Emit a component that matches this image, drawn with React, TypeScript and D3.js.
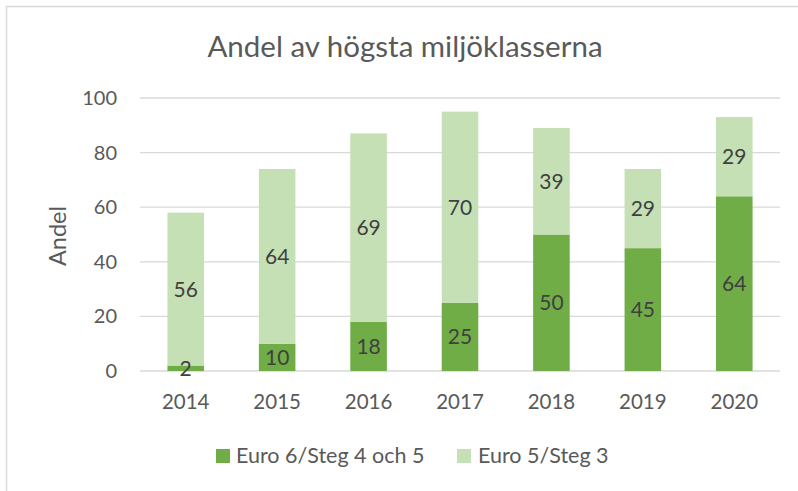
import React from "react";
import * as d3 from "d3";

const years = ["2014", "2015", "2016", "2017", "2018", "2019", "2020"];
const euro6 = [2, 10, 18, 25, 50, 45, 64];
const euro5 = [56, 64, 69, 70, 39, 29, 29];
const yTicks = [0, 20, 40, 60, 80, 100];
const seriesNames = ["Euro 6/Steg 4 och 5", "Euro 5/Steg 3"];
const colors = ["#70AD47", "#C5E0B4"];

const W = 798;
const H = 491;
const FONT = "Lato, 'Open Sans', sans-serif";

export default function App() {
  const x = d3.scaleBand<string>().domain(years).range([140, 780]).paddingInner(0.6).paddingOuter(0.3);
  const y = d3.scaleLinear().domain([0, 100]).range([371, 98]);
  const rows = years.map((yr, i) => ({ year: yr, e6: euro6[i], e5: euro5[i] }));
  const stack = d3.stack<any>().keys(["e6", "e5"]);
  const series = stack(rows);

  return (
    <svg width={W} height={H} style={{ position: "absolute", left: 0, top: 0, background: "#fff" }} fontFamily={FONT}>
      <rect x={0} y={0} width={W} height={H} fill="#fff" />
      <rect x={6.5} y={6.5} width={W + 10} height={H + 10} fill="none" stroke="#D9D9D9" strokeWidth={1.5} />
      <text x={405} y={57} textAnchor="middle" fontSize={29.5} fill="#595959">
        Andel av högsta miljöklasserna
      </text>
      {yTicks.map((t) => (
        <g key={t}>
          <line x1={140} x2={780} y1={y(t)} y2={y(t)} stroke="#D9D9D9" strokeWidth={1.3} />
          <text x={117} y={y(t) + 7} textAnchor="end" fontSize={20} fill="#595959">
            {t}
          </text>
        </g>
      ))}
      <text transform={`translate(66,236) rotate(-90)`} textAnchor="middle" fontSize={23.5} fill="#595959">
        Andel
      </text>
      {series.map((s, si) => (
        <g key={si}>
          {s.map((d: any, i: number) => (
            <rect
              key={i}
              x={x(years[i])!}
              width={x.bandwidth()}
              y={y(d[1])}
              height={y(d[0]) - y(d[1])}
              fill={colors[si]}
            />
          ))}
        </g>
      ))}
      {series.map((s, si) => (
        <g key={"l" + si}>
          {s.map((d: any, i: number) => (
            <text
              key={i}
              x={x(years[i])! + x.bandwidth() / 2}
              y={y((d[0] + d[1]) / 2) + 7.5}
              textAnchor="middle"
              fontSize={21}
              fill="#404040"
            >
              {d[1] - d[0]}
            </text>
          ))}
        </g>
      ))}
      {years.map((yr) => (
        <text key={yr} x={x(yr)! + x.bandwidth() / 2} y={409} textAnchor="middle" fontSize={20.5} fill="#595959">
          {yr}
        </text>
      ))}
      <rect x={216} y={449} width={14} height={14} fill={colors[0]} />
      <text x={236} y={463} fontSize={21.5} fill="#595959">{seriesNames[0]}</text>
      <rect x={457} y={449} width={14} height={14} fill={colors[1]} />
      <text x={478} y={463} fontSize={21.5} fill="#595959">{seriesNames[1]}</text>
    </svg>
  );
}
